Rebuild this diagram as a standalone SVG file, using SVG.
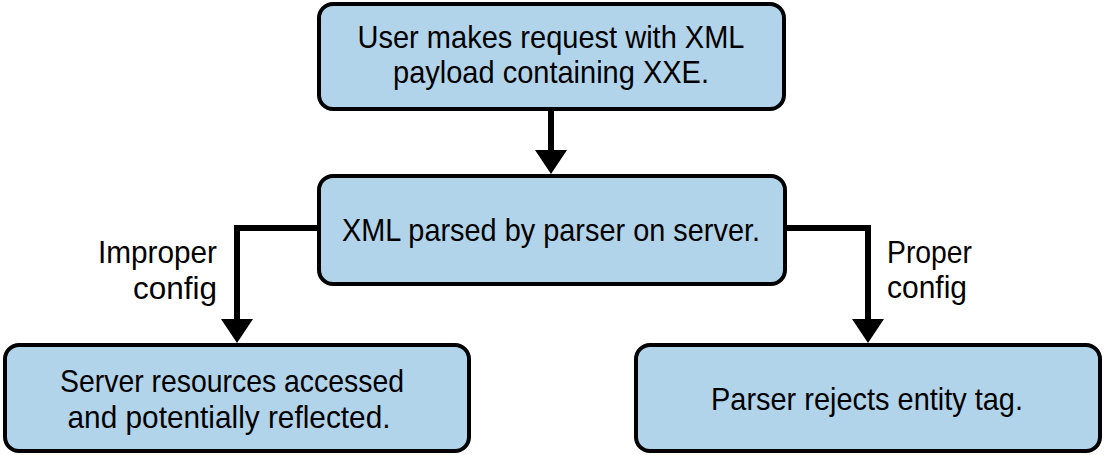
<svg xmlns="http://www.w3.org/2000/svg" width="1105" height="455" viewBox="0 0 1105 455">
<style>
.box{fill:#b2d4ea;stroke:#000;stroke-width:4}
.t{font-family:"Liberation Sans",Arial,sans-serif;font-size:32px;fill:#000}
.c{text-anchor:middle}
.line{fill:none;stroke:#000;stroke-width:6}
.head{fill:#000}
</style>
<rect width="1105" height="455" fill="#fff"/>
<g id="connectors">
<path class="line" d="M551,109 V152"/>
<polygon class="head" points="535,150 567,150 551,174"/>
<path class="line" d="M319,228 H237 V321"/>
<polygon class="head" points="221,319 253,319 237,343"/>
<path class="line" d="M785,228 H868 V321"/>
<polygon class="head" points="852,319 884,319 868,343"/>
</g>
<g id="n1">
<rect class="box" x="319" y="4" width="465" height="105" rx="14"/>
<text class="t c" x="551" y="48" textLength="387" lengthAdjust="spacingAndGlyphs">User makes request with XML</text>
<text class="t c" x="551" y="83" textLength="316" lengthAdjust="spacingAndGlyphs">payload containing XXE.</text>
</g>
<g id="n2">
<rect class="box" x="319" y="176" width="466" height="108" rx="14"/>
<text class="t c" x="551" y="241" textLength="418" lengthAdjust="spacingAndGlyphs">XML parsed by parser on server.</text>
</g>
<g id="n3">
<rect class="box" x="5" y="345" width="464" height="106" rx="14"/>
<text class="t c" x="232" y="392" textLength="344" lengthAdjust="spacingAndGlyphs">Server resources accessed</text>
<text class="t c" x="229" y="428" textLength="323" lengthAdjust="spacingAndGlyphs">and potentially reflected.</text>
</g>
<g id="n4">
<rect class="box" x="636" y="345" width="464" height="106" rx="14"/>
<text class="t c" x="867" y="410" textLength="312" lengthAdjust="spacingAndGlyphs">Parser rejects entity tag.</text>
</g>
<g id="labels">
<text class="t" x="217" y="263" text-anchor="end" textLength="119" lengthAdjust="spacingAndGlyphs">Improper</text>
<text class="t" x="217" y="299" text-anchor="end" textLength="84" lengthAdjust="spacingAndGlyphs">config</text>
<text class="t" x="887" y="263" textLength="85" lengthAdjust="spacingAndGlyphs">Proper</text>
<text class="t" x="887" y="298" textLength="80" lengthAdjust="spacingAndGlyphs">config</text>
</g>
</svg>
